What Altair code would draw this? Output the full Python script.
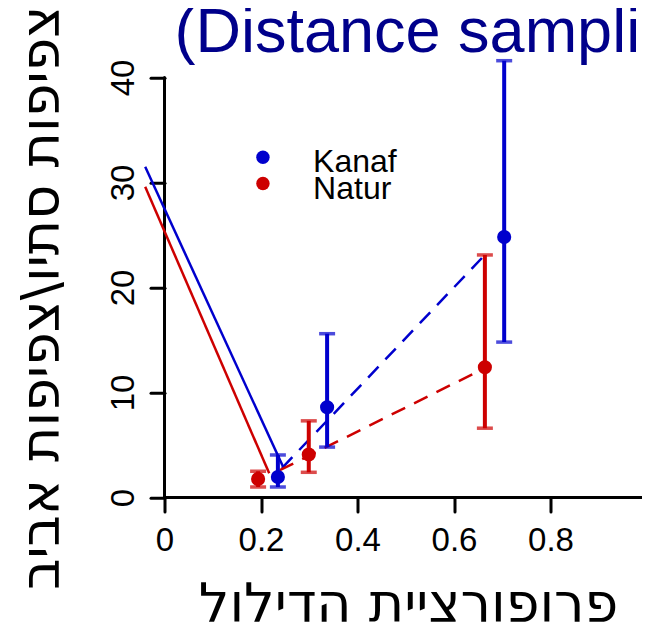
import altair as alt
import pandas as pd

FONT = "Liberation Sans"
HEB_FONT = "DejaVu Sans"
BLUE = "#0000CD"
RED = "#CD0000"
TITLE_BLUE = "#00008B"

# ---- data ----
groups = ["Kanaf", "Kanaf", "Kanaf", "Natur", "Natur", "Natur"]
proportion = [0.235, 0.337, 0.704, 0.194, 0.299, 0.664]
ratio = [1.95, 8.6, 24.8, 1.76, 4.1, 12.4]
lower = [1.0, 4.8, 14.8, 1.0, 2.4, 6.6]
upper = [4.05, 15.6, 41.6, 2.5, 7.3, 23.1]

solid_group = ["Kanaf", "Kanaf", "Natur", "Natur"]
solid_x = [-0.04, 0.246, -0.04, 0.217]
solid_y = [31.5, 2.9, 29.6, 2.3]

dashed_group = ["Kanaf", "Kanaf", "Natur", "Natur"]
dashed_x = [0.2435, 0.668, 0.239, 0.654]
dashed_y = [2.8, 23.3, 2.6, 12.1]

legend_names = ["Kanaf", "Natur"]
legend_y = [32.4, 29.9]
LEGEND_DOT_X = 0.204
LEGEND_TEXT_X = 0.308

x_ticks = [0, 0.2, 0.4, 0.6, 0.8, 1]
y_ticks = [0, 10, 20, 30, 40]

title_text = "(Distance sampli"
x_title = "פרופורציית הדילול"
y_title = "צפיפות סתיו\\צפיפות אביב"

# ---- tables ----
pts = pd.DataFrame({"g": groups, "x": proportion, "y": ratio, "lo": lower, "hi": upper})
solid = pd.DataFrame({"g": solid_group, "x": solid_x, "y": solid_y})
dashed = pd.DataFrame({"g": dashed_group, "x": dashed_x, "y": dashed_y})
leg = pd.DataFrame({"g": legend_names, "y": legend_y})
xaxis_line = pd.DataFrame({"x": [min(x_ticks)], "x2": [max(x_ticks)], "y": [0]})
yaxis_line = pd.DataFrame({"x": [0], "y": [min(y_ticks)], "y2": [max(y_ticks)]})

PX_PER_X = 482.5
PAD_LEFT = 156.5
SVG_W = 634
W = SVG_W - PAD_LEFT
X_MAX = W / PX_PER_X
Y_MAX = 41.6
H = Y_MAX * 10.5

xscale = alt.Scale(domain=[0, X_MAX], nice=False, zero=False)
yscale = alt.Scale(domain=[0, Y_MAX], nice=False, zero=False)
cscale = alt.Scale(domain=["Kanaf", "Natur"], range=[BLUE, RED])

xaxis = alt.Axis(values=x_ticks, format="~g", domain=False, grid=False,
                 tickSize=14, tickWidth=3, tickColor="black", tickCap="round",
                 labelFont=FONT, labelFontSize=33, labelColor="black",
                 labelPadding=13, labelBaseline="top", labelFlush=False,
                 labelOverlap=False, labelBound=False, title=None)
yaxis = alt.Axis(values=y_ticks, format="d", domain=False, grid=False,
                 tickSize=14, tickWidth=3, tickColor="black", tickCap="round",
                 labelFont=FONT, labelFontSize=33, labelColor="black",
                 labelAngle=270, labelAlign="center", labelBaseline="alphabetic",
                 labelPadding=17, labelFlush=False, labelOverlap=False,
                 labelBound=False, title=None)


def X(field="x"):
    return alt.X(f"{field}:Q", scale=xscale, axis=xaxis)


def Y(field="y"):
    return alt.Y(f"{field}:Q", scale=yscale, axis=yaxis)


color = alt.Color("g:N", scale=cscale, legend=None)

solid_layer = alt.Chart(solid).mark_line(strokeWidth=2.5, clip=False).encode(
    x=X(), y=Y(), color=color, detail="g:N")
dashed_layer = alt.Chart(dashed).mark_line(strokeWidth=2.5, strokeDash=[15, 10]).encode(
    x=X(), y=Y(), color=color, detail="g:N")
err_layer = alt.Chart(pts).mark_rule(strokeWidth=4).encode(
    x=X(), y=Y("lo"), y2="hi:Q", color=color)
cap_lo = alt.Chart(pts).mark_tick(orient="horizontal", size=16, thickness=3.5).encode(
    x=X(), y=Y("lo"), color=color)
cap_hi = alt.Chart(pts).mark_tick(orient="horizontal", size=16, thickness=3.5).encode(
    x=X(), y=Y("hi"), color=color)
pt_layer = alt.Chart(pts).mark_point(filled=True, size=200, opacity=1).encode(
    x=X(), y=Y(), color=color)

xline = alt.Chart(xaxis_line).mark_rule(strokeWidth=3, color="black", strokeCap="round").encode(
    x=X(), x2="x2:Q", y=Y())
yline = alt.Chart(yaxis_line).mark_rule(strokeWidth=3, color="black", strokeCap="round").encode(
    x=X(), y=Y(), y2="y2:Q")

leg_dots = alt.Chart(leg).mark_point(filled=True, size=180, opacity=1).encode(
    x=alt.datum(LEGEND_DOT_X, type="quantitative", scale=xscale),
    y=Y(), color=color)
leg_text = alt.Chart(leg).mark_text(font=FONT, fontSize=32, align="left",
                                    baseline="alphabetic", dy=15, color="black").encode(
    x=alt.datum(LEGEND_TEXT_X, type="quantitative", scale=xscale),
    y=Y(), text="g:N")

title_layer = alt.Chart(pd.DataFrame({"t": [title_text]})).mark_text(
    font=FONT, fontSize=63, align="left", baseline="alphabetic", color=TITLE_BLUE
).encode(text="t:N", x=alt.value(10), y=alt.value(-9))

xtitle_layer = alt.Chart(pd.DataFrame({"t": [x_title]})).mark_text(
    font=HEB_FONT, fontSize=54, align="center", baseline="alphabetic", color="black"
).encode(text="t:N", x=alt.value(244), y=alt.value(561))

ytitle_layer = alt.Chart(pd.DataFrame({"t": [y_title]})).mark_text(
    font=HEB_FONT, fontSize=54, align="right", baseline="alphabetic", angle=270, color="black"
).encode(text="t:N", x=alt.value(-106), y=alt.value(-55))

chart = alt.layer(
    xline, yline, solid_layer, dashed_layer, err_layer, cap_lo, cap_hi, pt_layer,
    leg_dots, leg_text, title_layer, xtitle_layer, ytitle_layer
).properties(
    width=W, height=H,
    padding={"left": PAD_LEFT, "top": 52.7, "right": 0, "bottom": 127.5},
    autosize=alt.AutoSizeParams(type="none"),
    background="white",
).configure_view(stroke=None)

chart.save("out.html", embed_options={"renderer": "svg", "actions": False})
